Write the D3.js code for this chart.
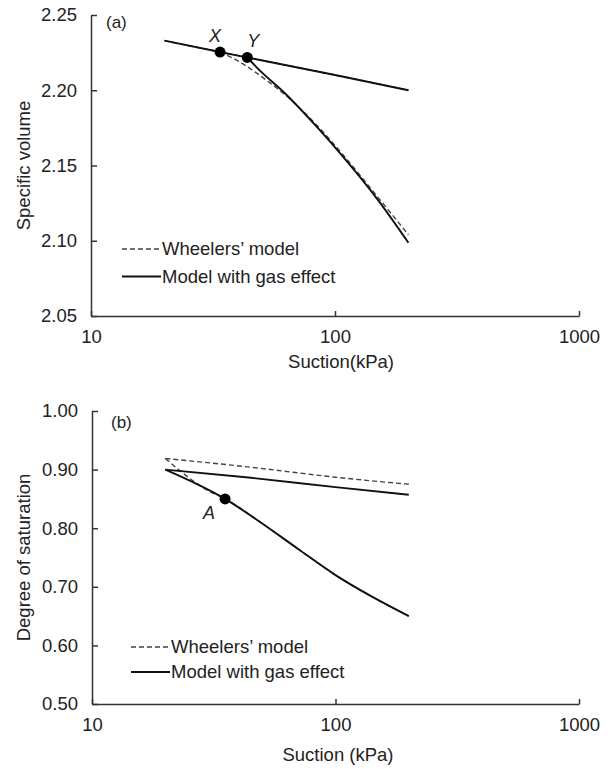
<!DOCTYPE html>
<html>
<head>
<meta charset="utf-8">
<script src="https://cdn.jsdelivr.net/npm/d3@7"></script>
<style>
  body { margin: 0; background: #fff; }
  svg text { font-family: "Liberation Sans", Arial, sans-serif; fill: #222; }
</style>
</head>
<body>
<div id="chart"></div>
<script>
//
// Specific volume / degree of saturation vs suction (two panels)
//

// x tick values (log scale)
var suctionTicks = [10, 100, 1000];

// panel (a): specific volume
var volTicks = [2.05, 2.10, 2.15, 2.20, 2.25];
var volUpperSuction = [20, 33.8, 43.7, 100, 200];
var volUpperWheeler = [2.233, 2.2254, 2.2218, 2.2101, 2.2000];
var volUpperGas = [2.233, 2.2254, 2.2218, 2.2101, 2.2000];
var volWheelerSuction = [33.8, 40, 53, 61.4, 84, 108, 148, 200];
var volWheeler = [2.2254, 2.2195, 2.206, 2.198, 2.177, 2.157, 2.130, 2.104];
var volGasSuction = [43.7, 50, 61.4, 84.1, 108, 148.3, 200];
var volGas = [2.2218, 2.212, 2.199, 2.1758, 2.1558, 2.1282, 2.0987];
var volPointSuction = [33.8, 43.7];
var volPointValue = [2.2254, 2.2218];
var volPointLabel = ["X", "Y"];

// panel (b): degree of saturation
var satTicks = [0.50, 0.60, 0.70, 0.80, 0.90, 1.00];
var satUpperSuction = [20, 45, 100, 200];
var satUpperWheeler = [0.919, 0.904, 0.887, 0.875];
var satUpperGas = [0.900, 0.886, 0.870, 0.857];
var satLowerWheelerSuction = [20, 30, 35.2, 50, 70, 100, 140, 200];
var satLowerWheeler = [0.919, 0.864, 0.850, 0.808, 0.765, 0.720, 0.684, 0.650];
var satLowerGasSuction = [20, 35.2, 50, 70, 100, 140, 200];
var satLowerGas = [0.900, 0.850, 0.808, 0.765, 0.720, 0.684, 0.650];
var satPointSuction = [35.2];
var satPointValue = [0.850];
var satPointLabel = ["A"];

var legendNames = ["Wheelers\u2019 model", "Model with gas effect"];

var width = 613, height = 769;

var svg = d3.select("#chart")
    .append("svg")
    .attr("width", width)
    .attr("height", height);

function toPoints(xs, ys) {
    return xs.map(function (d, i) { return [d, ys[i]]; });
}

function drawPanel(cfg) {
    var g = svg.append("g");

    var x = d3.scaleLog().domain([10, 1000]).range([cfg.left, cfg.right]);
    var y = d3.scaleLinear().domain(cfg.yDomain).range([cfg.bottom, cfg.top]);

    // x-axis
    var xAxis = d3.axisBottom(x)
        .tickValues(suctionTicks)
        .tickFormat(d3.format("d"))
        .tickSizeInner(-5)
        .tickSizeOuter(0)
        .tickPadding(14);
    var gx = g.append("g")
        .attr("transform", "translate(0," + cfg.bottom + ")")
        .call(xAxis);

    // y-axis
    var yAxis = d3.axisLeft(y)
        .tickValues(cfg.yTicks)
        .tickFormat(d3.format(".2f"))
        .tickSizeInner(-6)
        .tickSizeOuter(0)
        .tickPadding(14);
    var gy = g.append("g")
        .attr("transform", "translate(" + cfg.left + ",0)")
        .call(yAxis);

    [gx, gy].forEach(function (a) {
        a.select(".domain").attr("stroke", "#333").attr("stroke-width", 1.5);
        a.selectAll(".tick line").attr("stroke", "#333").attr("stroke-width", 1.5);
        a.selectAll(".tick text")
            .style("font-size", "18.5px")
            .attr("fill", "#222");
    });

    // axis titles
    g.append("text")
        .attr("x", cfg.xTitleX)
        .attr("y", cfg.xTitleY)
        .attr("dy", "0.35em")
        .style("text-anchor", "middle")
        .style("font-size", "18.5px")
        .text(cfg.xTitle);

    g.append("text")
        .attr("transform", "translate(24," + ((cfg.top + cfg.bottom) / 2) + ") rotate(-90)")
        .attr("dy", "0.35em")
        .style("text-anchor", "middle")
        .style("font-size", "18.5px")
        .text(cfg.yTitle);

    // panel tag
    g.append("text")
        .attr("x", cfg.tagX)
        .attr("y", cfg.tagY)
        .attr("dy", "0.35em")
        .style("font-size", "17px")
        .text(cfg.tag);

    var line = d3.line()
        .curve(d3.curveMonotoneX)
        .x(function (d) { return x(d[0]); })
        .y(function (d) { return y(d[1]); });

    // curves
    cfg.curves.forEach(function (c) {
        g.append("path")
            .datum(c.points)
            .attr("fill", "none")
            .attr("stroke", c.dashed ? "#444" : "#111")
            .attr("stroke-width", c.dashed ? 1.4 : 1.9)
            .attr("stroke-dasharray", c.dashed ? "5,3" : null)
            .attr("d", line);
    });

    // marked points
    cfg.points.forEach(function (p) {
        g.append("circle")
            .attr("cx", x(p[0]))
            .attr("cy", y(p[1]))
            .attr("r", 5.5)
            .attr("fill", "#000");
        g.append("text")
            .attr("x", x(p[0]) + p[3])
            .attr("y", y(p[1]) + p[4])
            .attr("dy", "0.35em")
            .style("text-anchor", "middle")
            .style("font-size", "18px")
            .style("font-style", "italic")
            .text(p[2]);
    });

    // legend
    legendNames.forEach(function (name, idx) {
        var ly = cfg.legendY + idx * cfg.legendGap;
        g.append("line")
            .attr("x1", cfg.legendX)
            .attr("x2", cfg.legendX + 39)
            .attr("y1", ly)
            .attr("y2", ly)
            .attr("stroke", idx == 0 ? "#444" : "#111")
            .attr("stroke-width", idx == 0 ? 1.4 : 1.9)
            .attr("stroke-dasharray", idx == 0 ? "5,3" : null);
        g.append("text")
            .attr("x", cfg.legendX + 40)
            .attr("y", ly)
            .attr("dy", "0.35em")
            .style("font-size", "18.5px")
            .text(name);
    });
}

drawPanel({
    left: 91, right: 579, top: 15, bottom: 316,
    yDomain: [2.05, 2.25],
    yTicks: volTicks,
    xTitle: "Suction(kPa)", xTitleX: 341, xTitleY: 362,
    yTitle: "Specific volume",
    tag: "(a)", tagX: 106, tagY: 22,
    curves: [
        { points: toPoints(volUpperSuction, volUpperWheeler), dashed: true },
        { points: toPoints(volWheelerSuction, volWheeler), dashed: true },
        { points: toPoints(volUpperSuction, volUpperGas), dashed: false },
        { points: toPoints(volGasSuction, volGas), dashed: false }
    ],
    points: volPointSuction.map(function (s, i) {
        return [s, volPointValue[i], volPointLabel[i], i == 0 ? -5 : 6, i == 0 ? -16 : -17];
    }),
    legendX: 122, legendY: 249, legendGap: 27.5
});

drawPanel({
    left: 92, right: 579, top: 411, bottom: 704,
    yDomain: [0.5, 1.0],
    yTicks: satTicks,
    xTitle: "Suction (kPa)", xTitleX: 338, xTitleY: 755,
    yTitle: "Degree of saturation",
    tag: "(b)", tagX: 111, tagY: 422,
    curves: [
        { points: toPoints(satUpperSuction, satUpperWheeler), dashed: true },
        { points: toPoints(satLowerWheelerSuction, satLowerWheeler), dashed: true },
        { points: toPoints(satUpperSuction, satUpperGas), dashed: false },
        { points: toPoints(satLowerGasSuction, satLowerGas), dashed: false }
    ],
    points: satPointSuction.map(function (s, i) {
        return [s, satPointValue[i], satPointLabel[i], -16, 14];
    }),
    legendX: 131, legendY: 647, legendGap: 25
});
</script>
</body>
</html>
